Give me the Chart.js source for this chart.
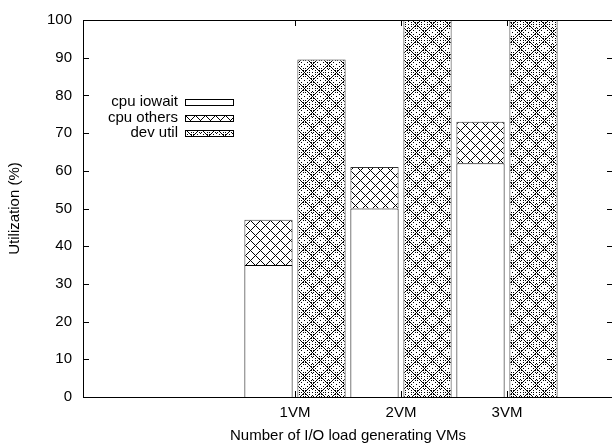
<!DOCTYPE html>
<html lang="en">
<head>
    <meta charset="UTF-8">
    <title>Utilization vs number of I/O load generating VMs</title>
    <script src="https://cdn.jsdelivr.net/npm/chart.js"></script>
    <style>
        html, body {
            margin: 0;
            padding: 0;
            background-color: white;
            overflow: hidden;
        }
        .chart-container {
            width: 620px;
            height: 443px;
        }
    </style>
</head>
<body>
    <div class="chart-container">
        <canvas id="utilChart" width="620" height="443"></canvas>
    </div>

    <script>
        // data (empty slots keep 1VM..3VM where gnuplot put them)
        const categories = ['', '', '1VM', '2VM', '3VM', ''];
        const cpuIowait = [null, null, 35, 50, 62, null];
        const cpuOthers = [null, null, 12, 11, 11, null];
        const devUtil = [null, null, 89.5, 100, 100, null];
        const seriesNames = ['cpu iowait', 'cpu others', 'dev util'];

        const FONT = { family: "'Liberation Sans', Arial, Helvetica, sans-serif", size: 15 };

        // little bitmap tiles to mimic the gnuplot fill patterns
        function makePattern(size, isInk) {
            const c = document.createElement('canvas');
            c.width = size;
            c.height = size;
            const g = c.getContext('2d');
            g.fillStyle = '#fff';
            g.fillRect(0, 0, size, size);
            g.fillStyle = '#000';
            for (let y = 0; y < size; y++) {
                for (let x = 0; x < size; x++) {
                    if (isInk(x, y)) g.fillRect(x, y, 1, 1);
                }
            }
            return document.createElement('canvas').getContext('2d').createPattern(c, 'repeat');
        }

        const crossPattern = makePattern(10, (x, y) => {
            return (x - y + 10) % 10 === 0 || (x + y) % 10 === 0;
        });

        const diamondPattern = makePattern(16, (x, y) => {
            const a = (x - y + 32) % 16;
            const b = (x + y) % 16;
            const main = a === 8 || b === 8;
            const side = (a === 5 || a === 11 || b === 5 || b === 11) && x % 2 === 1;
            const d = Math.hypot(x - 8, y - 8);
            const ring = Math.abs(d - 2.8) < 0.5 && (x + y) % 2 === 1;
            const dot = x === 8 && y === 8;
            const corner = (x === 0 && y === 0);
            return main || side || ring || dot || corner;
        });

        const frameTicksLegend = {
            id: 'frameTicksLegend',
            afterDraw(chart) {
                const { ctx, chartArea: a, scales: { x, y } } = chart;
                ctx.save();
                ctx.strokeStyle = '#000';
                ctx.lineWidth = 1;
                ctx.strokeRect(a.left + 0.5, a.top + 0.5, a.right - a.left, a.bottom - a.top);

                const len = 6;
                ctx.beginPath();
                y.ticks.forEach(t => {
                    const py = Math.round(y.getPixelForValue(t.value)) + 0.5;
                    ctx.moveTo(a.left, py);
                    ctx.lineTo(a.left + len, py);
                    ctx.moveTo(a.right, py);
                    ctx.lineTo(a.right - len, py);
                });
                categories.forEach((lab, i) => {
                    if (!lab) return;
                    const px = Math.round(x.getPixelForTick(i)) + 0.5;
                    ctx.moveTo(px, a.bottom);
                    ctx.lineTo(px, a.bottom - len);
                    ctx.moveTo(px, a.top);
                    ctx.lineTo(px, a.top + len);
                });
                ctx.stroke();

                // gnuplot style key: text on the left, sample on the right
                ctx.font = FONT.size + 'px ' + FONT.family;
                ctx.textAlign = 'right';
                ctx.textBaseline = 'middle';
                chart.data.datasets.forEach((ds, i) => {
                    const ry = 102 + i * 15.5;
                    ctx.fillStyle = '#000';
                    ctx.fillText(ds.label, 178, ry);
                    ctx.fillStyle = ds.backgroundColor;
                    ctx.fillRect(185, Math.round(ry - 3), 48, 6);
                    ctx.strokeRect(185.5, Math.round(ry - 3) + 0.5, 48, 6);
                });
                ctx.restore();
            }
        };

        const ctx = document.getElementById('utilChart').getContext('2d');

        new Chart(ctx, {
            type: 'bar',
            data: {
                labels: categories,
                datasets: [
                    {
                        label: seriesNames[0],
                        data: cpuIowait,
                        stack: 'cpu',
                        backgroundColor: '#ffffff',
                        borderColor: '#000',
                        borderWidth: 1
                    },
                    {
                        label: seriesNames[1],
                        data: cpuOthers,
                        stack: 'cpu',
                        backgroundColor: crossPattern,
                        borderColor: '#333',
                        borderWidth: 1
                    },
                    {
                        label: seriesNames[2],
                        data: devUtil,
                        stack: 'dev',
                        backgroundColor: diamondPattern,
                        borderColor: '#333',
                        borderWidth: 1
                    }
                ]
            },
            options: {
                responsive: false,
                animation: false,
                layout: {
                    padding: { top: 17, right: 5, left: 0, bottom: 0 }
                },
                datasets: {
                    bar: {
                        categoryPercentage: 1,
                        barPercentage: 0.91
                    }
                },
                plugins: {
                    legend: { display: false },
                    tooltip: { enabled: false }
                },
                scales: {
                    x: {
                        stacked: true,
                        offset: false,
                        grid: { display: false, drawTicks: false },
                        border: { display: false },
                        ticks: {
                            color: '#000',
                            font: FONT,
                            padding: 7,
                            maxRotation: 0,
                            autoSkip: false
                        },
                        title: {
                            display: true,
                            text: 'Number of I/O load generating VMs',
                            color: '#000',
                            font: FONT,
                            padding: -2
                        },
                        afterFit: s => { s.height = 46; }
                    },
                    y: {
                        stacked: true,
                        min: 0,
                        max: 100,
                        grid: { display: false, drawTicks: false },
                        border: { display: false },
                        ticks: {
                            stepSize: 10,
                            color: '#000',
                            font: FONT,
                            padding: 11
                        },
                        title: {
                            display: true,
                            text: 'Utilization (%)',
                            color: '#000',
                            font: FONT,
                            padding: 6
                        },
                        afterFit: s => { s.width = 83; }
                    }
                }
            },
            plugins: [frameTicksLegend]
        });
    </script>
</body>
</html>
